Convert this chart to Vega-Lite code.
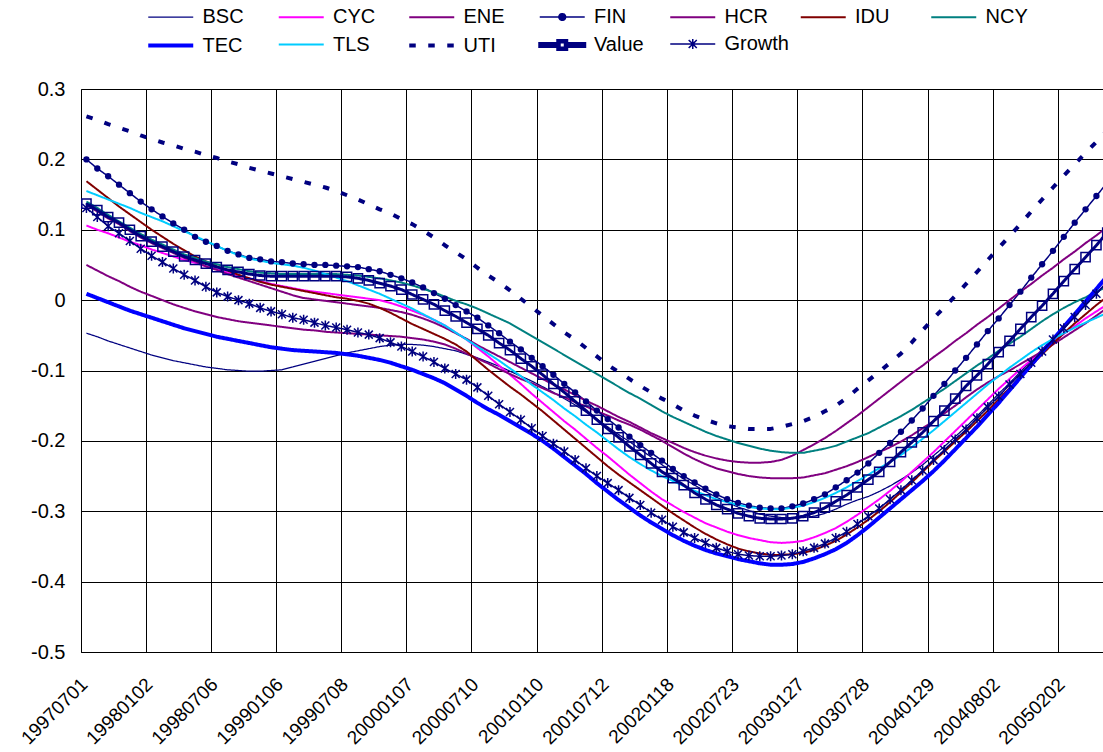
{
  "$schema": "https://vega.github.io/schema/vega-lite/v6.json",
  "width": 1022,
  "height": 563,
  "autosize": {"type": "none"},
  "padding": {"left": 81, "top": 89, "right": 0, "bottom": 100},
  "background": "white",
  "config": {"view": {"stroke": null}, "font": "Liberation Sans"},
  "data": {"values": [
{"d":"19970701","BSC":-0.047,"CYC":0.106,"ENE":0.050,"FIN":0.200,"HCR":0.135,"IDU":0.169,"NCY":0.140,"TEC":0.009,"TLS":0.155,"UTI":0.261,"Value":0.137,"Growth":0.131},
{"d":"19970801","BSC":-0.052,"CYC":0.100,"ENE":0.042,"FIN":0.187,"HCR":0.126,"IDU":0.157,"NCY":0.131,"TEC":0.003,"TLS":0.149,"UTI":0.256,"Value":0.128,"Growth":0.118},
{"d":"19970902","BSC":-0.058,"CYC":0.095,"ENE":0.034,"FIN":0.176,"HCR":0.116,"IDU":0.145,"NCY":0.121,"TEC":-0.003,"TLS":0.143,"UTI":0.250,"Value":0.118,"Growth":0.105},
{"d":"19971001","BSC":-0.063,"CYC":0.089,"ENE":0.027,"FIN":0.164,"HCR":0.108,"IDU":0.133,"NCY":0.112,"TEC":-0.009,"TLS":0.137,"UTI":0.245,"Value":0.110,"Growth":0.095},
{"d":"19971103","BSC":-0.068,"CYC":0.083,"ENE":0.019,"FIN":0.152,"HCR":0.098,"IDU":0.122,"NCY":0.103,"TEC":-0.015,"TLS":0.131,"UTI":0.240,"Value":0.100,"Growth":0.084},
{"d":"19971201","BSC":-0.073,"CYC":0.078,"ENE":0.012,"FIN":0.140,"HCR":0.089,"IDU":0.111,"NCY":0.094,"TEC":-0.020,"TLS":0.124,"UTI":0.234,"Value":0.091,"Growth":0.073},
{"d":"19980102","BSC":-0.078,"CYC":0.072,"ENE":0.006,"FIN":0.129,"HCR":0.081,"IDU":0.100,"NCY":0.086,"TEC":-0.025,"TLS":0.118,"UTI":0.229,"Value":0.083,"Growth":0.063},
{"d":"19980202","BSC":-0.082,"CYC":0.067,"ENE":0.000,"FIN":0.119,"HCR":0.074,"IDU":0.090,"NCY":0.079,"TEC":-0.030,"TLS":0.112,"UTI":0.224,"Value":0.076,"Growth":0.054},
{"d":"19980302","BSC":-0.086,"CYC":0.062,"ENE":-0.006,"FIN":0.109,"HCR":0.067,"IDU":0.080,"NCY":0.072,"TEC":-0.035,"TLS":0.105,"UTI":0.220,"Value":0.069,"Growth":0.045},
{"d":"19980401","BSC":-0.089,"CYC":0.057,"ENE":-0.011,"FIN":0.100,"HCR":0.060,"IDU":0.071,"NCY":0.065,"TEC":-0.040,"TLS":0.098,"UTI":0.215,"Value":0.062,"Growth":0.036},
{"d":"19980501","BSC":-0.092,"CYC":0.053,"ENE":-0.016,"FIN":0.090,"HCR":0.055,"IDU":0.062,"NCY":0.060,"TEC":-0.044,"TLS":0.091,"UTI":0.211,"Value":0.057,"Growth":0.028},
{"d":"19980601","BSC":-0.095,"CYC":0.048,"ENE":-0.020,"FIN":0.083,"HCR":0.048,"IDU":0.055,"NCY":0.055,"TEC":-0.048,"TLS":0.084,"UTI":0.206,"Value":0.052,"Growth":0.019},
{"d":"19980706","BSC":-0.097,"CYC":0.044,"ENE":-0.024,"FIN":0.077,"HCR":0.043,"IDU":0.048,"NCY":0.051,"TEC":-0.052,"TLS":0.077,"UTI":0.202,"Value":0.047,"Growth":0.011},
{"d":"19980803","BSC":-0.099,"CYC":0.039,"ENE":-0.027,"FIN":0.070,"HCR":0.037,"IDU":0.042,"NCY":0.047,"TEC":-0.055,"TLS":0.070,"UTI":0.197,"Value":0.043,"Growth":0.005},
{"d":"19980901","BSC":-0.100,"CYC":0.035,"ENE":-0.030,"FIN":0.065,"HCR":0.032,"IDU":0.036,"NCY":0.044,"TEC":-0.058,"TLS":0.064,"UTI":0.193,"Value":0.040,"Growth":0.000},
{"d":"19981001","BSC":-0.101,"CYC":0.031,"ENE":-0.032,"FIN":0.060,"HCR":0.027,"IDU":0.031,"NCY":0.041,"TEC":-0.061,"TLS":0.059,"UTI":0.188,"Value":0.037,"Growth":-0.005},
{"d":"19981102","BSC":-0.101,"CYC":0.027,"ENE":-0.034,"FIN":0.058,"HCR":0.022,"IDU":0.026,"NCY":0.039,"TEC":-0.064,"TLS":0.056,"UTI":0.184,"Value":0.035,"Growth":-0.011},
{"d":"19981201","BSC":-0.100,"CYC":0.023,"ENE":-0.036,"FIN":0.055,"HCR":0.017,"IDU":0.022,"NCY":0.038,"TEC":-0.067,"TLS":0.053,"UTI":0.180,"Value":0.034,"Growth":-0.016},
{"d":"19990106","BSC":-0.099,"CYC":0.020,"ENE":-0.038,"FIN":0.054,"HCR":0.012,"IDU":0.019,"NCY":0.037,"TEC":-0.069,"TLS":0.051,"UTI":0.176,"Value":0.034,"Growth":-0.020},
{"d":"19990201","BSC":-0.095,"CYC":0.017,"ENE":-0.040,"FIN":0.052,"HCR":0.007,"IDU":0.016,"NCY":0.037,"TEC":-0.071,"TLS":0.049,"UTI":0.172,"Value":0.034,"Growth":-0.025},
{"d":"19990301","BSC":-0.091,"CYC":0.014,"ENE":-0.042,"FIN":0.051,"HCR":0.003,"IDU":0.013,"NCY":0.037,"TEC":-0.072,"TLS":0.046,"UTI":0.168,"Value":0.034,"Growth":-0.028},
{"d":"19990401","BSC":-0.087,"CYC":0.012,"ENE":-0.043,"FIN":0.050,"HCR":0.001,"IDU":0.010,"NCY":0.037,"TEC":-0.073,"TLS":0.042,"UTI":0.164,"Value":0.034,"Growth":-0.032},
{"d":"19990503","BSC":-0.083,"CYC":0.010,"ENE":-0.045,"FIN":0.050,"HCR":-0.001,"IDU":0.007,"NCY":0.037,"TEC":-0.074,"TLS":0.037,"UTI":0.160,"Value":0.034,"Growth":-0.036},
{"d":"19990601","BSC":-0.079,"CYC":0.008,"ENE":-0.046,"FIN":0.049,"HCR":-0.003,"IDU":0.004,"NCY":0.037,"TEC":-0.075,"TLS":0.032,"UTI":0.155,"Value":0.034,"Growth":-0.039},
{"d":"19990708","BSC":-0.075,"CYC":0.006,"ENE":-0.047,"FIN":0.048,"HCR":-0.005,"IDU":0.002,"NCY":0.036,"TEC":-0.077,"TLS":0.027,"UTI":0.149,"Value":0.033,"Growth":-0.042},
{"d":"19990802","BSC":-0.072,"CYC":0.004,"ENE":-0.048,"FIN":0.047,"HCR":-0.007,"IDU":-0.001,"NCY":0.035,"TEC":-0.079,"TLS":0.021,"UTI":0.143,"Value":0.031,"Growth":-0.046},
{"d":"19990901","BSC":-0.069,"CYC":0.002,"ENE":-0.049,"FIN":0.044,"HCR":-0.009,"IDU":-0.005,"NCY":0.033,"TEC":-0.082,"TLS":0.015,"UTI":0.136,"Value":0.028,"Growth":-0.049},
{"d":"19991001","BSC":-0.066,"CYC":0.000,"ENE":-0.050,"FIN":0.041,"HCR":-0.011,"IDU":-0.011,"NCY":0.031,"TEC":-0.085,"TLS":0.009,"UTI":0.129,"Value":0.024,"Growth":-0.054},
{"d":"19991101","BSC":-0.064,"CYC":-0.004,"ENE":-0.051,"FIN":0.036,"HCR":-0.014,"IDU":-0.018,"NCY":0.028,"TEC":-0.089,"TLS":0.002,"UTI":0.123,"Value":0.020,"Growth":-0.060},
{"d":"19991201","BSC":-0.063,"CYC":-0.009,"ENE":-0.052,"FIN":0.031,"HCR":-0.017,"IDU":-0.026,"NCY":0.025,"TEC":-0.094,"TLS":-0.005,"UTI":0.115,"Value":0.015,"Growth":-0.066},
{"d":"20000107","BSC":-0.063,"CYC":-0.015,"ENE":-0.054,"FIN":0.025,"HCR":-0.021,"IDU":-0.034,"NCY":0.021,"TEC":-0.099,"TLS":-0.012,"UTI":0.108,"Value":0.008,"Growth":-0.073},
{"d":"20000201","BSC":-0.064,"CYC":-0.021,"ENE":-0.056,"FIN":0.018,"HCR":-0.026,"IDU":-0.041,"NCY":0.016,"TEC":-0.105,"TLS":-0.020,"UTI":0.099,"Value":0.001,"Growth":-0.080},
{"d":"20000301","BSC":-0.066,"CYC":-0.028,"ENE":-0.059,"FIN":0.010,"HCR":-0.032,"IDU":-0.048,"NCY":0.011,"TEC":-0.111,"TLS":-0.028,"UTI":0.089,"Value":-0.006,"Growth":-0.088},
{"d":"20000403","BSC":-0.069,"CYC":-0.036,"ENE":-0.063,"FIN":0.002,"HCR":-0.039,"IDU":-0.055,"NCY":0.005,"TEC":-0.118,"TLS":-0.036,"UTI":0.078,"Value":-0.015,"Growth":-0.097},
{"d":"20000501","BSC":-0.072,"CYC":-0.046,"ENE":-0.069,"FIN":-0.007,"HCR":-0.047,"IDU":-0.063,"NCY":-0.001,"TEC":-0.127,"TLS":-0.046,"UTI":0.068,"Value":-0.023,"Growth":-0.105},
{"d":"20000601","BSC":-0.077,"CYC":-0.056,"ENE":-0.076,"FIN":-0.016,"HCR":-0.055,"IDU":-0.073,"NCY":-0.006,"TEC":-0.136,"TLS":-0.056,"UTI":0.058,"Value":-0.032,"Growth":-0.113},
{"d":"20000710","BSC":-0.082,"CYC":-0.068,"ENE":-0.083,"FIN":-0.025,"HCR":-0.064,"IDU":-0.086,"NCY":-0.012,"TEC":-0.146,"TLS":-0.066,"UTI":0.046,"Value":-0.041,"Growth":-0.124},
{"d":"20000801","BSC":-0.088,"CYC":-0.080,"ENE":-0.090,"FIN":-0.036,"HCR":-0.072,"IDU":-0.099,"NCY":-0.019,"TEC":-0.155,"TLS":-0.076,"UTI":0.035,"Value":-0.050,"Growth":-0.136},
{"d":"20000901","BSC":-0.094,"CYC":-0.093,"ENE":-0.098,"FIN":-0.047,"HCR":-0.080,"IDU":-0.111,"NCY":-0.026,"TEC":-0.163,"TLS":-0.086,"UTI":0.025,"Value":-0.061,"Growth":-0.148},
{"d":"20001002","BSC":-0.101,"CYC":-0.106,"ENE":-0.105,"FIN":-0.059,"HCR":-0.088,"IDU":-0.123,"NCY":-0.033,"TEC":-0.172,"TLS":-0.097,"UTI":0.014,"Value":-0.071,"Growth":-0.159},
{"d":"20001101","BSC":-0.108,"CYC":-0.119,"ENE":-0.112,"FIN":-0.070,"HCR":-0.096,"IDU":-0.134,"NCY":-0.042,"TEC":-0.181,"TLS":-0.108,"UTI":0.002,"Value":-0.083,"Growth":-0.170},
{"d":"20001201","BSC":-0.115,"CYC":-0.133,"ENE":-0.118,"FIN":-0.082,"HCR":-0.104,"IDU":-0.146,"NCY":-0.051,"TEC":-0.190,"TLS":-0.120,"UTI":-0.010,"Value":-0.094,"Growth":-0.182},
{"d":"20010110","BSC":-0.123,"CYC":-0.146,"ENE":-0.125,"FIN":-0.094,"HCR":-0.112,"IDU":-0.158,"NCY":-0.060,"TEC":-0.200,"TLS":-0.131,"UTI":-0.022,"Value":-0.106,"Growth":-0.193},
{"d":"20010201","BSC":-0.131,"CYC":-0.159,"ENE":-0.132,"FIN":-0.106,"HCR":-0.120,"IDU":-0.171,"NCY":-0.069,"TEC":-0.211,"TLS":-0.142,"UTI":-0.034,"Value":-0.119,"Growth":-0.204},
{"d":"20010301","BSC":-0.140,"CYC":-0.172,"ENE":-0.138,"FIN":-0.119,"HCR":-0.127,"IDU":-0.184,"NCY":-0.078,"TEC":-0.223,"TLS":-0.154,"UTI":-0.046,"Value":-0.131,"Growth":-0.215},
{"d":"20010402","BSC":-0.149,"CYC":-0.184,"ENE":-0.145,"FIN":-0.131,"HCR":-0.135,"IDU":-0.197,"NCY":-0.087,"TEC":-0.235,"TLS":-0.165,"UTI":-0.056,"Value":-0.144,"Growth":-0.227},
{"d":"20010501","BSC":-0.159,"CYC":-0.197,"ENE":-0.151,"FIN":-0.144,"HCR":-0.143,"IDU":-0.210,"NCY":-0.096,"TEC":-0.247,"TLS":-0.177,"UTI":-0.068,"Value":-0.157,"Growth":-0.239},
{"d":"20010601","BSC":-0.169,"CYC":-0.210,"ENE":-0.158,"FIN":-0.157,"HCR":-0.150,"IDU":-0.223,"NCY":-0.105,"TEC":-0.260,"TLS":-0.188,"UTI":-0.080,"Value":-0.170,"Growth":-0.250},
{"d":"20010712","BSC":-0.180,"CYC":-0.222,"ENE":-0.164,"FIN":-0.169,"HCR":-0.158,"IDU":-0.236,"NCY":-0.114,"TEC":-0.272,"TLS":-0.200,"UTI":-0.092,"Value":-0.183,"Growth":-0.260},
{"d":"20010801","BSC":-0.191,"CYC":-0.235,"ENE":-0.171,"FIN":-0.181,"HCR":-0.166,"IDU":-0.248,"NCY":-0.123,"TEC":-0.284,"TLS":-0.212,"UTI":-0.102,"Value":-0.195,"Growth":-0.270},
{"d":"20010904","BSC":-0.201,"CYC":-0.248,"ENE":-0.177,"FIN":-0.194,"HCR":-0.173,"IDU":-0.259,"NCY":-0.132,"TEC":-0.295,"TLS":-0.223,"UTI":-0.112,"Value":-0.208,"Growth":-0.281},
{"d":"20011001","BSC":-0.212,"CYC":-0.260,"ENE":-0.184,"FIN":-0.206,"HCR":-0.181,"IDU":-0.270,"NCY":-0.140,"TEC":-0.306,"TLS":-0.233,"UTI":-0.122,"Value":-0.220,"Growth":-0.291},
{"d":"20011101","BSC":-0.223,"CYC":-0.272,"ENE":-0.192,"FIN":-0.217,"HCR":-0.189,"IDU":-0.281,"NCY":-0.149,"TEC":-0.316,"TLS":-0.242,"UTI":-0.131,"Value":-0.232,"Growth":-0.302},
{"d":"20011203","BSC":-0.234,"CYC":-0.283,"ENE":-0.200,"FIN":-0.228,"HCR":-0.196,"IDU":-0.292,"NCY":-0.158,"TEC":-0.325,"TLS":-0.250,"UTI":-0.140,"Value":-0.244,"Growth":-0.312},
{"d":"20020118","BSC":-0.244,"CYC":-0.292,"ENE":-0.209,"FIN":-0.240,"HCR":-0.203,"IDU":-0.303,"NCY":-0.166,"TEC":-0.334,"TLS":-0.257,"UTI":-0.148,"Value":-0.253,"Growth":-0.322},
{"d":"20020215","BSC":-0.254,"CYC":-0.301,"ENE":-0.218,"FIN":-0.250,"HCR":-0.210,"IDU":-0.313,"NCY":-0.173,"TEC":-0.342,"TLS":-0.264,"UTI":-0.157,"Value":-0.263,"Growth":-0.330},
{"d":"20020315","BSC":-0.263,"CYC":-0.309,"ENE":-0.226,"FIN":-0.259,"HCR":-0.216,"IDU":-0.323,"NCY":-0.180,"TEC":-0.349,"TLS":-0.271,"UTI":-0.164,"Value":-0.274,"Growth":-0.338},
{"d":"20020415","BSC":-0.272,"CYC":-0.317,"ENE":-0.233,"FIN":-0.268,"HCR":-0.221,"IDU":-0.332,"NCY":-0.187,"TEC":-0.355,"TLS":-0.277,"UTI":-0.170,"Value":-0.283,"Growth":-0.345},
{"d":"20020515","BSC":-0.280,"CYC":-0.323,"ENE":-0.239,"FIN":-0.276,"HCR":-0.225,"IDU":-0.340,"NCY":-0.193,"TEC":-0.360,"TLS":-0.283,"UTI":-0.175,"Value":-0.291,"Growth":-0.352},
{"d":"20020617","BSC":-0.287,"CYC":-0.329,"ENE":-0.243,"FIN":-0.283,"HCR":-0.228,"IDU":-0.347,"NCY":-0.198,"TEC":-0.364,"TLS":-0.287,"UTI":-0.179,"Value":-0.297,"Growth":-0.357},
{"d":"20020723","BSC":-0.294,"CYC":-0.334,"ENE":-0.247,"FIN":-0.288,"HCR":-0.230,"IDU":-0.353,"NCY":-0.203,"TEC":-0.368,"TLS":-0.291,"UTI":-0.181,"Value":-0.303,"Growth":-0.361},
{"d":"20020823","BSC":-0.299,"CYC":-0.338,"ENE":-0.250,"FIN":-0.292,"HCR":-0.231,"IDU":-0.357,"NCY":-0.207,"TEC":-0.371,"TLS":-0.294,"UTI":-0.183,"Value":-0.307,"Growth":-0.363},
{"d":"20020923","BSC":-0.304,"CYC":-0.341,"ENE":-0.252,"FIN":-0.295,"HCR":-0.231,"IDU":-0.360,"NCY":-0.211,"TEC":-0.374,"TLS":-0.296,"UTI":-0.183,"Value":-0.310,"Growth":-0.364},
{"d":"20021023","BSC":-0.307,"CYC":-0.344,"ENE":-0.253,"FIN":-0.296,"HCR":-0.230,"IDU":-0.362,"NCY":-0.214,"TEC":-0.376,"TLS":-0.297,"UTI":-0.183,"Value":-0.311,"Growth":-0.364},
{"d":"20021122","BSC":-0.309,"CYC":-0.345,"ENE":-0.253,"FIN":-0.296,"HCR":-0.227,"IDU":-0.362,"NCY":-0.216,"TEC":-0.376,"TLS":-0.297,"UTI":-0.180,"Value":-0.311,"Growth":-0.363},
{"d":"20021223","BSC":-0.310,"CYC":-0.344,"ENE":-0.253,"FIN":-0.293,"HCR":-0.221,"IDU":-0.361,"NCY":-0.217,"TEC":-0.375,"TLS":-0.295,"UTI":-0.176,"Value":-0.310,"Growth":-0.361},
{"d":"20030127","BSC":-0.309,"CYC":-0.342,"ENE":-0.252,"FIN":-0.289,"HCR":-0.213,"IDU":-0.359,"NCY":-0.217,"TEC":-0.372,"TLS":-0.292,"UTI":-0.172,"Value":-0.307,"Growth":-0.357},
{"d":"20030227","BSC":-0.307,"CYC":-0.337,"ENE":-0.249,"FIN":-0.283,"HCR":-0.205,"IDU":-0.355,"NCY":-0.214,"TEC":-0.367,"TLS":-0.287,"UTI":-0.166,"Value":-0.302,"Growth":-0.352},
{"d":"20030327","BSC":-0.303,"CYC":-0.331,"ENE":-0.246,"FIN":-0.276,"HCR":-0.196,"IDU":-0.349,"NCY":-0.211,"TEC":-0.361,"TLS":-0.281,"UTI":-0.158,"Value":-0.295,"Growth":-0.346},
{"d":"20030428","BSC":-0.297,"CYC":-0.324,"ENE":-0.241,"FIN":-0.266,"HCR":-0.186,"IDU":-0.342,"NCY":-0.207,"TEC":-0.354,"TLS":-0.274,"UTI":-0.150,"Value":-0.286,"Growth":-0.338},
{"d":"20030528","BSC":-0.290,"CYC":-0.315,"ENE":-0.236,"FIN":-0.256,"HCR":-0.175,"IDU":-0.333,"NCY":-0.201,"TEC":-0.345,"TLS":-0.266,"UTI":-0.139,"Value":-0.277,"Growth":-0.329},
{"d":"20030627","BSC":-0.284,"CYC":-0.305,"ENE":-0.230,"FIN":-0.245,"HCR":-0.164,"IDU":-0.323,"NCY":-0.195,"TEC":-0.334,"TLS":-0.257,"UTI":-0.126,"Value":-0.266,"Growth":-0.318},
{"d":"20030728","BSC":-0.279,"CYC":-0.294,"ENE":-0.223,"FIN":-0.232,"HCR":-0.152,"IDU":-0.312,"NCY":-0.189,"TEC":-0.322,"TLS":-0.248,"UTI":-0.114,"Value":-0.255,"Growth":-0.307},
{"d":"20030828","BSC":-0.272,"CYC":-0.283,"ENE":-0.216,"FIN":-0.217,"HCR":-0.140,"IDU":-0.300,"NCY":-0.181,"TEC":-0.309,"TLS":-0.239,"UTI":-0.102,"Value":-0.244,"Growth":-0.296},
{"d":"20030929","BSC":-0.264,"CYC":-0.271,"ENE":-0.209,"FIN":-0.203,"HCR":-0.128,"IDU":-0.287,"NCY":-0.173,"TEC":-0.296,"TLS":-0.230,"UTI":-0.089,"Value":-0.230,"Growth":-0.283},
{"d":"20031029","BSC":-0.255,"CYC":-0.258,"ENE":-0.201,"FIN":-0.187,"HCR":-0.116,"IDU":-0.273,"NCY":-0.165,"TEC":-0.283,"TLS":-0.220,"UTI":-0.076,"Value":-0.216,"Growth":-0.270},
{"d":"20031128","BSC":-0.245,"CYC":-0.244,"ENE":-0.192,"FIN":-0.171,"HCR":-0.104,"IDU":-0.259,"NCY":-0.156,"TEC":-0.270,"TLS":-0.209,"UTI":-0.060,"Value":-0.202,"Growth":-0.256},
{"d":"20031229","BSC":-0.234,"CYC":-0.230,"ENE":-0.182,"FIN":-0.154,"HCR":-0.093,"IDU":-0.244,"NCY":-0.146,"TEC":-0.257,"TLS":-0.197,"UTI":-0.043,"Value":-0.188,"Growth":-0.242},
{"d":"20040129","BSC":-0.221,"CYC":-0.216,"ENE":-0.172,"FIN":-0.136,"HCR":-0.081,"IDU":-0.229,"NCY":-0.136,"TEC":-0.243,"TLS":-0.185,"UTI":-0.026,"Value":-0.172,"Growth":-0.227},
{"d":"20040301","BSC":-0.208,"CYC":-0.201,"ENE":-0.161,"FIN":-0.119,"HCR":-0.070,"IDU":-0.215,"NCY":-0.126,"TEC":-0.228,"TLS":-0.172,"UTI":-0.010,"Value":-0.157,"Growth":-0.213},
{"d":"20040401","BSC":-0.194,"CYC":-0.186,"ENE":-0.150,"FIN":-0.100,"HCR":-0.058,"IDU":-0.201,"NCY":-0.115,"TEC":-0.212,"TLS":-0.159,"UTI":0.006,"Value":-0.140,"Growth":-0.198},
{"d":"20040503","BSC":-0.180,"CYC":-0.171,"ENE":-0.138,"FIN":-0.082,"HCR":-0.047,"IDU":-0.187,"NCY":-0.104,"TEC":-0.196,"TLS":-0.146,"UTI":0.023,"Value":-0.122,"Growth":-0.184},
{"d":"20040601","BSC":-0.165,"CYC":-0.156,"ENE":-0.127,"FIN":-0.063,"HCR":-0.035,"IDU":-0.172,"NCY":-0.093,"TEC":-0.180,"TLS":-0.133,"UTI":0.040,"Value":-0.107,"Growth":-0.168},
{"d":"20040701","BSC":-0.149,"CYC":-0.141,"ENE":-0.117,"FIN":-0.044,"HCR":-0.024,"IDU":-0.157,"NCY":-0.083,"TEC":-0.163,"TLS":-0.120,"UTI":0.057,"Value":-0.091,"Growth":-0.152},
{"d":"20040802","BSC":-0.133,"CYC":-0.126,"ENE":-0.108,"FIN":-0.026,"HCR":-0.012,"IDU":-0.141,"NCY":-0.072,"TEC":-0.146,"TLS":-0.108,"UTI":0.074,"Value":-0.074,"Growth":-0.137},
{"d":"20040901","BSC":-0.118,"CYC":-0.112,"ENE":-0.100,"FIN":-0.007,"HCR":0.000,"IDU":-0.125,"NCY":-0.062,"TEC":-0.128,"TLS":-0.096,"UTI":0.091,"Value":-0.058,"Growth":-0.120},
{"d":"20041001","BSC":-0.102,"CYC":-0.098,"ENE":-0.091,"FIN":0.012,"HCR":0.012,"IDU":-0.109,"NCY":-0.052,"TEC":-0.110,"TLS":-0.085,"UTI":0.108,"Value":-0.041,"Growth":-0.105},
{"d":"20041101","BSC":-0.086,"CYC":-0.085,"ENE":-0.082,"FIN":0.032,"HCR":0.023,"IDU":-0.093,"NCY":-0.041,"TEC":-0.092,"TLS":-0.074,"UTI":0.126,"Value":-0.024,"Growth":-0.089},
{"d":"20041201","BSC":-0.070,"CYC":-0.072,"ENE":-0.073,"FIN":0.051,"HCR":0.035,"IDU":-0.077,"NCY":-0.030,"TEC":-0.074,"TLS":-0.064,"UTI":0.143,"Value":-0.008,"Growth":-0.073},
{"d":"20050103","BSC":-0.054,"CYC":-0.060,"ENE":-0.063,"FIN":0.070,"HCR":0.046,"IDU":-0.062,"NCY":-0.020,"TEC":-0.056,"TLS":-0.055,"UTI":0.160,"Value":0.009,"Growth":-0.056},
{"d":"20050202","BSC":-0.038,"CYC":-0.048,"ENE":-0.053,"FIN":0.090,"HCR":0.058,"IDU":-0.047,"NCY":-0.011,"TEC":-0.038,"TLS":-0.047,"UTI":0.177,"Value":0.027,"Growth":-0.040},
{"d":"20050302","BSC":-0.022,"CYC":-0.037,"ENE":-0.043,"FIN":0.110,"HCR":0.069,"IDU":-0.033,"NCY":-0.003,"TEC":-0.020,"TLS":-0.039,"UTI":0.193,"Value":0.044,"Growth":-0.024},
{"d":"20050401","BSC":-0.006,"CYC":-0.026,"ENE":-0.033,"FIN":0.129,"HCR":0.081,"IDU":-0.020,"NCY":0.004,"TEC":-0.002,"TLS":-0.032,"UTI":0.209,"Value":0.061,"Growth":-0.007},
{"d":"20050502","BSC":0.010,"CYC":-0.016,"ENE":-0.022,"FIN":0.148,"HCR":0.092,"IDU":-0.007,"NCY":0.012,"TEC":0.016,"TLS":-0.025,"UTI":0.225,"Value":0.078,"Growth":0.009},
{"d":"20050601","BSC":0.026,"CYC":-0.006,"ENE":-0.011,"FIN":0.167,"HCR":0.104,"IDU":0.005,"NCY":0.019,"TEC":0.034,"TLS":-0.018,"UTI":0.241,"Value":0.096,"Growth":0.026}
  ]},
  "transform": [
    {"fold": ["BSC","CYC","ENE","FIN","HCR","IDU","NCY","TEC","TLS","UTI","Value","Growth"], "as": ["series","v"]}
  ],
  "encoding": {
    "x": {
      "field": "d", "type": "ordinal",
      "scale": {"type": "band", "paddingInner": 0, "paddingOuter": 0, "range": [0, 1031.7]},
      "axis": {
        "values": ["19970701","19980102","19980706","19990106","19990708","20000107","20000710","20010110","20010712","20020118","20020723","20030127","20030728","20040129","20040802","20050202"],
        "bandPosition": 0,
        "title": null,
        "grid": true, "gridColor": "#000000", "gridWidth": 1, "gridOpacity": 1,
        "ticks": false,
        "domain": true, "domainColor": "#000000", "domainWidth": 1,
        "labelAngle": -45, "labelAlign": "right", "labelBaseline": "middle",
        "labelFont": "Liberation Sans", "labelFontSize": 19, "labelColor": "#000000",
        "labelPadding": 29, "labelOffset": -2, "labelOverlap": false, "labelFlush": false, "labelBound": false
      }
    },
    "y": {
      "field": "v", "type": "quantitative",
      "scale": {"domain": [-0.5, 0.3], "nice": false, "zero": false},
      "axis": {
        "values": [-0.5,-0.4,-0.3,-0.2,-0.1,0,0.1,0.2,0.3],
        "labelExpr": "'' + datum.value",
        "title": null,
        "grid": true, "gridColor": "#000000", "gridWidth": 1, "gridOpacity": 1,
        "ticks": false,
        "domain": true, "domainColor": "#000000", "domainWidth": 1,
        "labelFont": "Liberation Sans", "labelFontSize": 20, "labelColor": "#000000",
        "labelPadding": 16
      }
    }
  },
  "layer": [
    {
      "mark": {"type": "line", "strokeCap": "butt", "strokeJoin": "round"},
      "encoding": {
        "color": {
          "field": "series", "type": "nominal",
          "scale": {
            "domain": ["BSC","CYC","ENE","FIN","HCR","IDU","NCY","TEC","TLS","UTI","Value","Growth"],
            "range": ["#000080","#FF00FF","#800080","#000080","#800080","#800000","#008080","#0000FF","#00CCFF","#000080","#000080","#000080"]
          },
          "legend": {
            "title": null,
            "orient": "none",
            "legendX": 65,
            "legendY": -85,
            "direction": "horizontal",
            "columns": 7,
            "gridAlign": "all",
            "columnPadding": 3.5,
            "rowPadding": 4,
            "padding": 0,
            "symbolSize": 506,
            "symbolType": "M-1,0H3",
            "symbolStrokeWidth": {"expr": "datum.value == 'Value' ? 0 : (datum.value == 'TEC' || datum.value == 'UTI') ? 4 : datum.value == 'BSC' ? 1.25 : 2"},
            "labelOffset": 29.5,
            "labelFont": "Liberation Sans",
            "labelFontSize": 20,
            "labelColor": "#000000",
            "labelLimit": 200,
            "encode": {
              "symbols": {
                "update": {
                  "shape": {"signal": "datum.value == 'FIN' ? 'M-1,0H3M0.7,0A0.3,0.3 0 1,0 1.3,0A0.3,0.3 0 1,0 0.7,0Z' : datum.value == 'Value' ? 'M-1,-0.133H0.6V0.133H-1ZM1.4,-0.133H3V0.133H1.4ZM0.6,-0.4H1.4V0.4H0.6ZM0.733,-0.267V0.267H1.267V-0.267Z' : datum.value == 'Growth' ? 'M-1,0H3M0.64,-0.36L1.36,0.36M0.64,0.36L1.36,-0.36M1,-0.45V0.45' : 'M-1,0H3'"},
                  "fill": {"signal": "datum.value == 'FIN' || datum.value == 'Value' ? '#000080' : 'transparent'"},
                  "strokeWidth": {"signal": "datum.value == 'Value' ? 0 : (datum.value == 'TEC' || datum.value == 'UTI') ? 4 : datum.value == 'BSC' ? 1.25 : 2"},
                  "strokeDash": {"signal": "datum.value == 'UTI' ? [6,6] : [1,0]"},
                  "opacity": {"value": 1}
                }
              }
            }
          }
        },
        "strokeWidth": {
          "field": "series", "type": "nominal",
          "scale": {
            "type": "ordinal",
            "domain": ["BSC","CYC","ENE","FIN","HCR","IDU","NCY","TEC","TLS","UTI","Value","Growth"],
            "range": [1.25,2,2,1.5,2,2,2,4,2,4,3,1.5]
          },
          "legend": null
        },
        "strokeDash": {
          "field": "series", "type": "nominal",
          "scale": {
            "type": "ordinal",
            "domain": ["BSC","CYC","ENE","FIN","HCR","IDU","NCY","TEC","TLS","UTI","Value","Growth"],
            "range": [[1,0],[1,0],[1,0],[1,0],[1,0],[1,0],[1,0],[1,0],[1,0],[6.5,12.5],[1,0],[1,0]]
          },
          "legend": null
        }
      }
    },
    {
      "transform": [{"filter": "datum.series == 'FIN'"}],
      "mark": {"type": "point", "shape": "circle", "filled": true, "size": 40, "color": "#000080", "opacity": 1}
    },
    {
      "transform": [{"filter": "datum.series == 'Value'"}],
      "mark": {"type": "point", "shape": "square", "filled": false, "size": 85, "color": "#000080", "strokeWidth": 1.5, "opacity": 1}
    },
    {
      "transform": [{"filter": "datum.series == 'Growth'"}],
      "mark": {"type": "point", "shape": "M-1,-1L1,1M-1,1L1,-1M0,-1.25V1.25", "filled": false, "size": 64, "color": "#000080", "strokeWidth": 1.5, "opacity": 1}
    }
  ]
}
